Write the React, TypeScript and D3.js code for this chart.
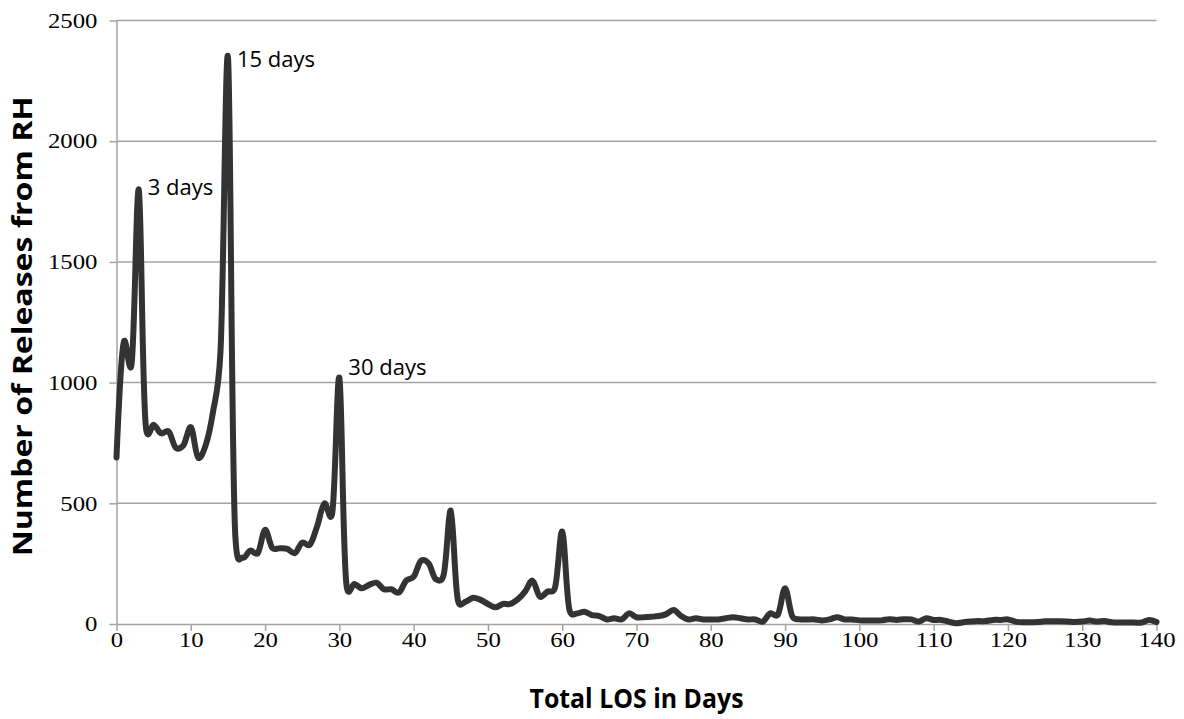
import React, { useRef, useEffect } from "react";
import * as d3 from "d3";

// Releases from RH by total length of stay (days 0..140)
const days = d3.range(0, 141);
const releases = [
  690, 1170, 1070, 1800, 805, 825, 790, 798, 730, 740,
  815, 688, 740, 880, 1130, 2350, 362, 275, 304, 293,
  390, 314, 314, 311, 293, 337, 328, 404, 500, 452,
  1020, 152, 166, 148, 162, 171, 144, 144, 130, 180,
  196, 262, 252, 185, 199, 470, 93, 93, 109, 100,
  83, 69, 83, 83, 102, 134, 180, 113, 134, 148,
  383, 55, 44, 51, 37, 33, 19, 24, 19, 44,
  28, 28, 30, 33, 41, 58, 33, 19, 24, 19,
  19, 19, 24, 28, 24, 19, 19, 10, 44, 37,
  148, 30, 19, 19, 19, 15, 19, 28, 19, 19,
  15, 15, 15, 15, 20, 17, 20, 19, 10, 24,
  17, 17, 10, 3, 7, 10, 12, 12, 17, 17,
  19, 10, 7, 7, 8, 11, 11, 11, 10, 8,
  10, 14, 10, 12, 7, 6, 6, 6, 6, 17,
  8,
];

const yTicks = [0, 500, 1000, 1500, 2000, 2500];
const xTicks = d3.range(0, 141, 10);

const peakLabels = [
  { day: 3, text: "3 days" },
  { day: 15, text: "15 days" },
  { day: 30, text: "30 days" },
];

const App = () => {
  const svgRef = useRef<SVGSVGElement>(null);

  useEffect(() => {
    if (!svgRef.current) return;
    const svg = d3.select(svgRef.current);
    svg.selectAll("*").remove();

    const width = 1184;
    const height = 719;
    const left = 116.5;
    const right = 1156.5;
    const top = 20.5;
    const bottom = 624;
    const grid = "#a3a3a3";
    const serif = "'Liberation Serif', 'Times New Roman', serif";
    const sans = "'Open Sans', 'Noto Sans', sans-serif";

    const x = d3.scaleLinear([0, 140], [left, right]);
    const y = d3.scaleLinear([0, 2500], [bottom, top]);

    svg.attr("width", width).attr("height", height);

    // horizontal gridlines
    svg
      .append("g")
      .selectAll("line")
      .data(yTicks.filter((d) => d > 0))
      .join("line")
      .attr("x1", left)
      .attr("x2", right)
      .attr("y1", (d) => y(d))
      .attr("y2", (d) => y(d))
      .attr("stroke", grid)
      .attr("stroke-width", 1.5);

    // y axis
    const yAxis = svg
      .append("g")
      .attr("transform", `translate(${left},0)`)
      .call(
        d3
          .axisLeft(y)
          .tickValues(yTicks)
          .tickFormat(d3.format("d"))
          .tickSize(7)
          .tickSizeOuter(0)
          .tickPadding(12)
      );
    yAxis.select(".domain").attr("stroke", grid).attr("stroke-width", 1.5);
    yAxis.selectAll(".tick line").attr("stroke", grid).attr("stroke-width", 1.5);
    yAxis
      .selectAll<SVGTextElement, number>(".tick text")
      .attr("font-family", serif)
      .attr("font-size", 21)
      .attr("fill", "#000")
      .attr("textLength", (d) => String(d).length * 12.4)
      .attr("lengthAdjust", "spacingAndGlyphs");

    // x axis
    const xAxis = svg
      .append("g")
      .attr("transform", `translate(0,${bottom})`)
      .call(d3.axisBottom(x).tickValues(xTicks).tickSize(7).tickSizeOuter(0).tickPadding(1));
    xAxis.select(".domain").attr("stroke", grid).attr("stroke-width", 1.5);
    xAxis.selectAll(".tick line").attr("stroke", grid).attr("stroke-width", 1.5);
    xAxis
      .selectAll<SVGTextElement, number>(".tick text")
      .attr("font-family", serif)
      .attr("font-size", 21)
      .attr("fill", "#000")
      .attr("textLength", (d) => String(d).length * 12.4)
      .attr("lengthAdjust", "spacingAndGlyphs");

    // data line (smoothed like the spreadsheet's line)
    const line = d3
      .line<number>()
      .x((d) => x(d))
      .y((d) => y(releases[d]))
      .curve(d3.curveCatmullRom.alpha(0.2));

    svg
      .append("path")
      .attr("fill", "none")
      .attr("stroke", "#333333")
      .attr("stroke-width", 6)
      .attr("stroke-linejoin", "round")
      .attr("stroke-linecap", "round")
      .attr("d", line(days));

    // peak annotations
    const labelDy = [6, 10, -3];
    svg
      .append("g")
      .selectAll("text")
      .data(peakLabels)
      .join("text")
      .attr("x", (d) => x(d.day) + 9)
      .attr("y", (d, i) => y(releases[d.day]) + labelDy[i])
      .attr("font-family", sans)
      .attr("font-size", 22)
      .attr("fill", "#000")
      .text((d) => d.text);

    // axis titles
    svg
      .append("text")
      .attr("transform", `translate(32,${(top + bottom) / 2 + 4}) rotate(-90)`)
      .attr("text-anchor", "middle")
      .attr("font-family", sans)
      .attr("font-weight", "bold")
      .attr("font-size", 26)
      .attr("textLength", 460)
      .attr("lengthAdjust", "spacingAndGlyphs")
      .text("Number of Releases from RH");

    svg
      .append("text")
      .attr("x", (left + right) / 2)
      .attr("y", 708)
      .attr("text-anchor", "middle")
      .attr("font-family", sans)
      .attr("font-weight", "bold")
      .attr("font-size", 26)
      .attr("textLength", 214)
      .attr("lengthAdjust", "spacingAndGlyphs")
      .text("Total LOS in Days");
  }, []);

  return (
    <svg
      ref={svgRef}
      style={{ position: "absolute", left: 0, top: 0, background: "#fff" }}
    ></svg>
  );
};

export default App;
